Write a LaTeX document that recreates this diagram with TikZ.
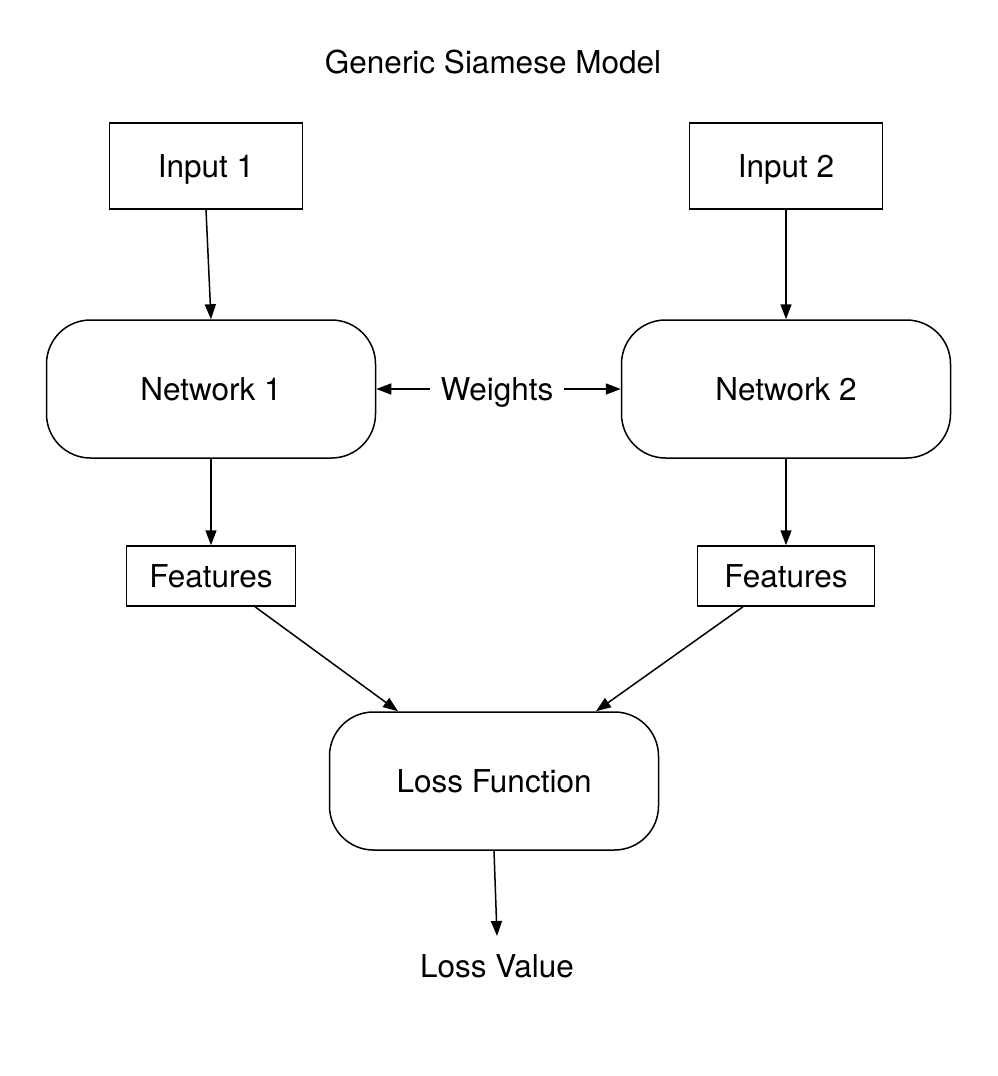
\documentclass[tikz,border=0pt]{standalone}
\usepackage{fontspec}
\setmainfont{TeX Gyre Heros}
\usetikzlibrary{arrows.meta}

\tikzset{
  box/.style={draw,line width=1.5pt,inner sep=0pt},
  netbox/.style={box,rounded corners=44pt,minimum width=329pt,minimum height=138pt},
  link/.style={line width=1.5pt,-{Triangle[length=15pt,width=11pt]}}
}

\begin{document}
\begin{tikzpicture}[x=1pt,y=-1pt,font=\fontsize{31.5}{36}\selectfont,
    every node/.style={text height=22pt,text depth=0pt}]
  \useasboundingbox (0,0) rectangle (998,1076);

  \node (title) at (493,62) {Generic Siamese Model};

  \node[box,minimum width=193pt,minimum height=86pt] (in1) at (206,166) {Input 1};
  \node[box,minimum width=193pt,minimum height=86pt] (in2) at (786,166) {Input 2};

  \node[netbox] (net1) at (211,389) {Network 1};
  \node[netbox] (net2) at (786,389) {Network 2};
  \node[inner xsep=10pt] (weights) at (497,389) {Weights};

  \node[box,minimum width=169pt,minimum height=60pt] (feat1) at (211,576) {Features};
  \node[box,minimum width=177pt,minimum height=60pt] (feat2) at (786,576) {Features};

  \node[netbox] (loss) at (494,781) {Loss Function};
  \node (value) at (497,966) {Loss Value};
  \coordinate (valtop) at (497,936);

  \draw[link] (in1.south) -- (net1.north);
  \draw[link] (in2.south) -- (net2.north);
  \draw[link] (weights.west) -- (net1.east);
  \draw[link] (weights.east) -- (net2.west);
  \draw[link] (net1.south) -- (feat1.north);
  \draw[link] (net2.south) -- (feat2.north);
  \draw[link] ([xshift=44pt]feat1.south) -- ([xshift=-96pt]loss.north);
  \draw[link] ([xshift=-43pt]feat2.south) -- ([xshift=102pt]loss.north);
  \draw[link] (loss.south) -- (valtop);
\end{tikzpicture}
\end{document}
